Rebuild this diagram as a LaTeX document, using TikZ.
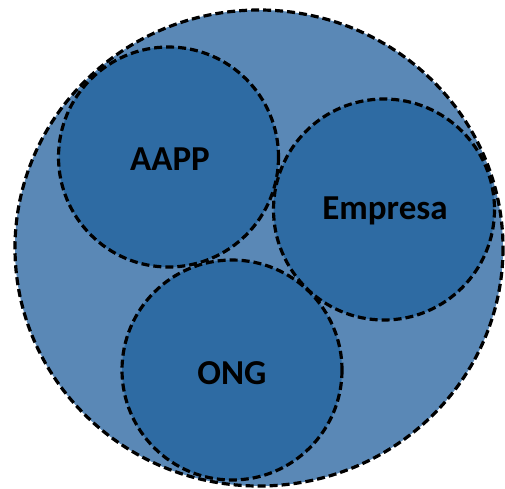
\documentclass[tikz,border=0pt]{standalone}
\usepackage{fontspec}
\setmainfont{Carlito}
\definecolor{outerblue}{HTML}{5A88B6}
\definecolor{innerblue}{HTML}{2E6BA3}
\begin{document}
\begin{tikzpicture}[x=1pt,y=-1pt,
  dashline/.style={draw=black,line width=3.2pt,dash pattern=on 8pt off 4pt},
  lbl/.style={font=\fontsize{35}{40}\selectfont\bfseries,text=black}]
\useasboundingbox (0,0) rectangle (505,488);
% fills
\fill[outerblue] (259,248) ellipse [x radius=244, y radius=238];
\fill[innerblue] (168.5,157) circle [radius=110];
\fill[innerblue] (384,209.5) circle [radius=110.5];
\fill[innerblue] (232,370) circle [radius=110];
% outlines
\draw[dashline] (259,248) ellipse [x radius=244, y radius=238];
\draw[dashline] (168.5,157) circle [radius=110];
\draw[dashline] (384,209.5) circle [radius=110.5];
\draw[dashline] (232,370) circle [radius=110];
% labels
\node[lbl] (aapp) at (170,159) {AAPP};
\node[lbl] (empresa) at (385,211) {Empresa};
\node[lbl] (ong) at (232,373) {ONG};
\end{tikzpicture}
\end{document}
